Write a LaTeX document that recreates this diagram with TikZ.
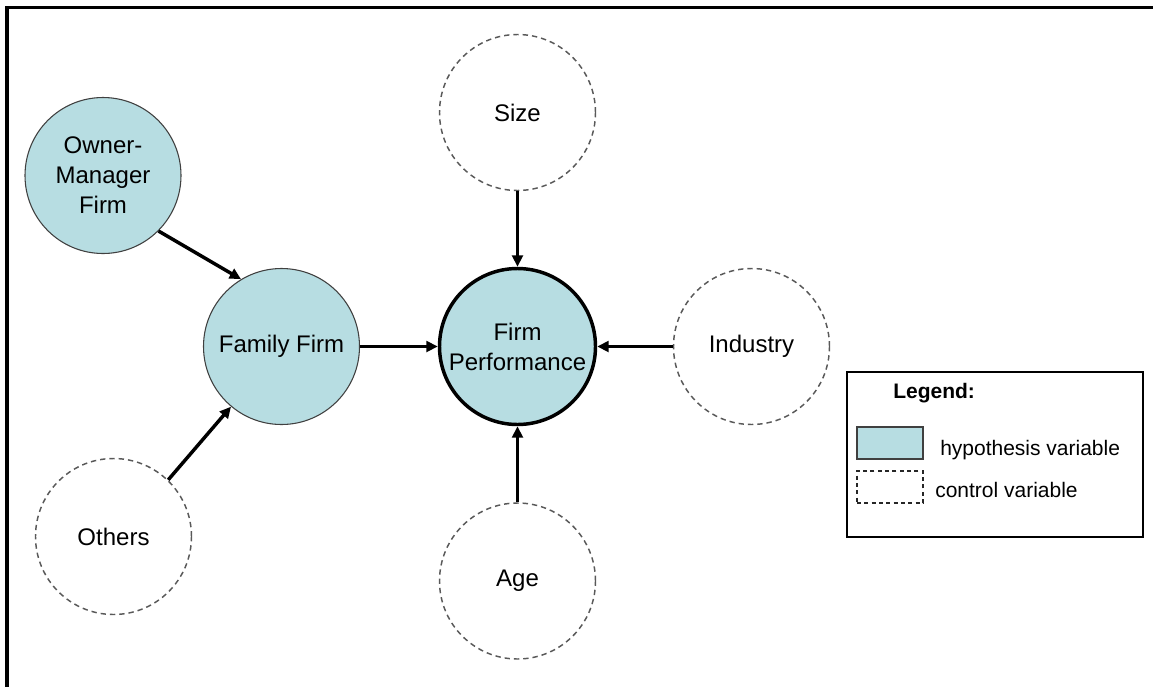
\documentclass[tikz,border=0pt]{standalone}
\usepackage{fontspec}
\setmainfont{Liberation Sans}
\usetikzlibrary{arrows.meta}
\definecolor{hypfill}{RGB}{183,221,226}
\tikzset{
  hyp/.style={circle, fill=hypfill, draw=black!75, line width=0.8pt, minimum size=117pt, inner sep=0pt, align=center, font=\fontsize{18}{22.5}\selectfont},
  ctrl/.style={circle, draw=black!65, dash pattern=on 4pt off 3pt, line width=1.1pt, minimum size=117pt, inner sep=0pt, align=center, font=\fontsize{18}{22.5}\selectfont},
  link/.style={line width=2.6pt, -{Triangle[length=8.5pt,width=8pt]}},
  legtext/.style={anchor=base west, inner sep=0pt, font=\fontsize{15.75}{18}\selectfont},
  swatch/.style={minimum width=49.5pt, minimum height=24pt, inner sep=0pt}
}
\begin{document}
\begin{tikzpicture}[x=0.75pt,y=-0.75pt]
\clip (0,0) rectangle (1153,686);
\fill[white] (0,0) rectangle (1153,686);
% outer frame (only top and left edges visible)
\coordinate (fbl) at (7,700);
\coordinate (ftl) at (7,7.5);
\coordinate (ftr) at (1170,7.5);
\draw[line width=2.4pt] (fbl) -- (ftl) -- (ftr);

% nodes
\node[hyp] (om) at (103,175.5) {Owner-\\Manager\\Firm};
\node[hyp] (ff) at (281.5,346.5) {Family Firm};
\node[hyp, line width=2.6pt, draw=black] (fp) at (517.5,346.5) {Firm\\Performance};
\node[ctrl] (size) at (517.5,112.5) {Size};
\node[ctrl] (ind) at (751.5,346.5) {Industry};
\node[ctrl] (age) at (517.5,581) {Age};
\node[ctrl] (ot) at (113.5,536.5) {Others};

% connectors
\draw[link] (om.-45) -- (ff.121);
\draw[link] (ot.46) -- (ff.-130);
\draw[link] (ff.east) -- (fp.west);
\draw[link] (size.south) -- (fp.north);
\draw[link] (ind.west) -- (fp.east);
\draw[link] (age.north) -- (fp.south);

% legend
\node[draw=black, line width=0.8pt, minimum width=222pt, minimum height=123.75pt, inner sep=0pt] (lg) at (995,454.5) {};
\node[legtext, font=\fontsize{15.75}{18}\selectfont\bfseries] (lgt) at (893,398) {Legend:};
\node[swatch, fill=hypfill, draw=black!75, line width=0.8pt] (sw1) at (890,443) {};
\node[swatch, draw=black!85, dash pattern=on 3pt off 2.5pt, line width=0.8pt] (sw2) at (890,487) {};
\node[legtext] (l1) at (940,455) {hypothesis variable};
\node[legtext] (l2) at (935,497) {control variable};
\end{tikzpicture}
\end{document}
